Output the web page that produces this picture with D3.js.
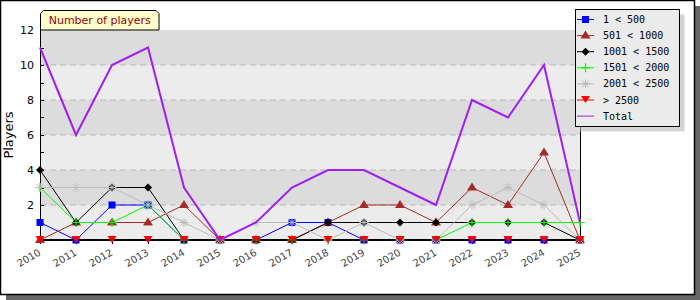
<!DOCTYPE html>
<html><head><meta charset="utf-8">
<script src="https://cdn.jsdelivr.net/npm/d3@7"></script>
<style>body{margin:0;background:#fff}svg{display:block}</style>
</head><body>
<svg id="c" width="700" height="300"></svg>
<script>
const years = ["2010","2011","2012","2013","2014","2015","2016","2017","2018","2019","2020","2021","2022","2023","2024","2025"];
const seriesNames = ["1 < 500","501 < 1000","1001 < 1500","1501 < 2000","2001 < 2500","> 2500","Total"];
const s1 = [1,0,2,2,0,0,0,1,1,0,0,0,0,0,0,0];
const s2 = [0,1,1,1,2,0,0,0,1,2,2,1,3,2,5,0];
const s3 = [4,1,3,3,0,0,0,0,1,1,1,1,1,1,1,0];
const s4 = [3,1,1,2,0,0,0,0,0,0,0,0,1,1,1,1];
const s5 = [3,3,3,2,1,0,1,1,0,1,0,0,2,3,2,0];
const s6 = [0,0,0,0,0,0,0,0,0,0,0,0,0,0,0,0];
const total = [11,6,10,11,3,0,1,3,4,4,3,2,8,7,10,1];
const yTicks = [2,4,6,8,10,12];
const title = "Number of players";
const yTitle = "Players";

const colors = ["#0000ff","#a52a2a","#000000","#00ff00","#bbbbbb","#ff0000","#a020f0"];
const shapes = ["square","tri","diamond","plus","star","tridown","none"];
const data = [s1,s2,s3,s4,s5,s6,total];

const svg = d3.select("#c");
const L=40,R=580,T=30,B=240;
const x = d3.scalePoint().domain(years).range([L,R]);
const y = d3.scaleLinear().domain([0,12]).range([B,T]);

// outer frame + shadow
svg.append("rect").attr("x",6).attr("y",6).attr("width",694).attr("height",294).attr("fill","#666");
svg.append("rect").attr("x",0.5).attr("y",0.5).attr("width",694).attr("height",294).attr("fill","#fff").attr("stroke","#000").attr("stroke-width",1.5);

// bands
const bands=[[0,2,"#ececec"],[2,4,"#dcdcdc"],[4,6,"#ececec"],[6,8,"#dcdcdc"],[8,10,"#ececec"],[10,12,"#dcdcdc"]];
svg.append("g").selectAll("rect").data(bands).join("rect")
  .attr("x",L).attr("width",R-L).attr("y",d=>y(d[1])).attr("height",d=>y(d[0])-y(d[1])).attr("fill",d=>d[2]);
// grid
svg.append("g").selectAll("line").data([2,4,6,8,10]).join("line")
  .attr("x1",L).attr("x2",R).attr("y1",d=>y(d)).attr("y2",d=>y(d))
  .attr("stroke","#b8b8b8").attr("stroke-dasharray","6,4");

// title tab
const tx0=40.5,tx1=159,ty0=10.5,ty1=30;
svg.append("path").attr("d",`M${tx0},${ty1}L${tx0},${ty0+3}L${tx0+3},${ty0}L${tx1-3},${ty0}L${tx1},${ty0+3}L${tx1},${ty1}Z`)
  .attr("fill","#ffffcc").attr("stroke","#000");
svg.append("text").attr("x",(tx0+tx1)/2).attr("y",24).attr("text-anchor","middle")
  .attr("font-family","DejaVu Sans").attr("font-size",11).attr("fill","#990000").text(title);

// y axis
const ya = svg.append("g").attr("transform",`translate(${L},0)`)
  .call(d3.axisLeft(y).tickValues(yTicks).tickSize(0).tickPadding(6).tickFormat(d3.format("d")));
ya.select(".domain").remove();
ya.selectAll("text").attr("font-family","DejaVu Sans").attr("font-size",11).attr("fill","#000");
svg.append("g").selectAll("line").data(d3.range(1,12)).join("line")
  .attr("x1",L).attr("x2",L+4).attr("y1",d=>Math.round(y(d))+0.5).attr("y2",d=>Math.round(y(d))+0.5).attr("stroke","#000");
svg.append("text").attr("transform",`translate(13,${(T+B)/2}) rotate(-90)`).attr("text-anchor","middle")
  .attr("font-family","DejaVu Sans").attr("font-size",13).attr("fill","#000").text(yTitle);

// series lines
const line = d3.line().x((d,i)=>x(years[i])).y(d=>y(d));
const lineG = svg.append("g");
data.forEach((arr,k)=>{
  if(k===6) return;
  lineG.append("path").attr("d",line(arr)).attr("fill","none").attr("stroke",colors[k]).attr("stroke-width",1);
});

// axes lines on top of series lines
svg.append("line").attr("x1",L+0.5).attr("x2",L+0.5).attr("y1",T).attr("y2",B).attr("stroke","#000");
svg.append("line").attr("x1",R+0.5).attr("x2",R+0.5).attr("y1",T).attr("y2",B).attr("stroke","#000");
const xa = svg.append("g").attr("transform",`translate(0,${B})`)
  .call(d3.axisBottom(x).tickSize(4).tickPadding(0));
xa.select(".domain").attr("stroke-width",2).attr("d",`M${L},0H${R}`);
xa.selectAll(".tick line").attr("y1",-4).attr("y2",4);
xa.selectAll("text").attr("font-family","DejaVu Sans").attr("font-size",10).attr("fill","#444")
  .attr("text-anchor","end").attr("dy",0).attr("transform","translate(-1,11) rotate(-30)");

// markers
function marker(g, shape, color, cx, cy){
  if(shape==="square") g.append("rect").attr("x",cx-3.5).attr("y",cy-3.5).attr("width",7).attr("height",7).attr("fill",color);
  else if(shape==="tri") g.append("path").attr("d",`M${cx},${cy-5}L${cx+5},${cy+3}L${cx-5},${cy+3}Z`).attr("fill",color);
  else if(shape==="tridown") g.append("path").attr("d",`M${cx-4.5},${cy-4}L${cx+4.5},${cy-4}L${cx},${cy+3}Z`).attr("fill",color);
  else if(shape==="diamond") g.append("path").attr("d",`M${cx},${cy-4}L${cx+4},${cy}L${cx},${cy+4}L${cx-4},${cy}Z`).attr("fill",color);
  else if(shape==="plus") g.append("path").attr("d",`M${cx-4.5},${cy}H${cx+4.5}M${cx},${cy-4.5}V${cy+4.5}`).attr("stroke",color).attr("stroke-width",1.2);
  else if(shape==="star") g.append("path").attr("d",`M${cx-4.5},${cy}H${cx+4.5}M${cx},${cy-4.5}V${cy+4.5}M${cx-3.3},${cy-3.3}L${cx+3.3},${cy+3.3}M${cx-3.3},${cy+3.3}L${cx+3.3},${cy-3.3}`).attr("stroke",color).attr("stroke-width",1);
}
data.forEach((arr,k)=>{
  if(shapes[k]==="none") return;
  const g = svg.append("g");
  arr.forEach((v,i)=>marker(g,shapes[k],colors[k],x(years[i]),y(v)));
});
// total line on top
svg.append("path").attr("d",line(total)).attr("fill","none").attr("stroke",colors[6]).attr("stroke-width",2);

// legend
const lx=575.5, ly=9.5, lw=104, lh=117;
svg.append("rect").attr("x",lx+5).attr("y",ly+5).attr("width",lw).attr("height",lh).attr("fill","#d4d4d4");
svg.append("rect").attr("x",lx).attr("y",ly).attr("width",lw).attr("height",lh).attr("fill","#ebebeb").attr("stroke","#000");
seriesNames.forEach((n,k)=>{
  const cy = 19.5 + k*16.1;
  const g = svg.append("g");
  g.append("line").attr("x1",577).attr("x2",594).attr("y1",cy).attr("y2",cy).attr("stroke",colors[k]).attr("stroke-width",1);
  if(shapes[k]!=="none") marker(g,shapes[k],colors[k],585.5,cy);
  g.append("text").attr("x",603).attr("y",cy+3.5).attr("font-family","DejaVu Sans Mono").attr("font-size",10).attr("fill","#000").text(n);
});
</script>
</body></html>
